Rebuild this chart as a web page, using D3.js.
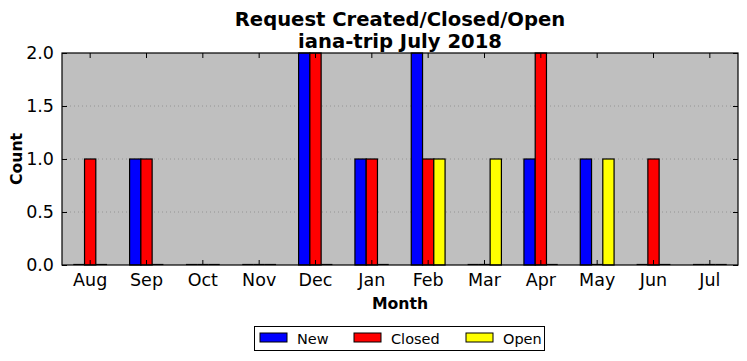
<!DOCTYPE html>
<html><head><meta charset="utf-8">
<script src="https://cdn.jsdelivr.net/npm/d3@7"></script>
<style>body{margin:0;background:#fff}svg{display:block;font-family:"DejaVu Sans",sans-serif}</style>
</head><body><svg id="c" width="747" height="361"></svg>
<script>
const months = ["Aug","Sep","Oct","Nov","Dec","Jan","Feb","Mar","Apr","May","Jun","Jul"];
const newVals = [0,1,0,0,2,1,2,0,1,1,0,0];
const closedVals = [1,1,0,0,2,1,1,0,2,0,1,0];
const openVals = [0,0,0,0,0,0,1,1,0,1,0,0];
const yTicks = [0,0.5,1.0,1.5,2.0];
const seriesNames = ["New","Closed","Open"];
const seriesColors = ["#0000ff","#ff0000","#ffff00"];
const seriesData = [newVals, closedVals, openVals];

const svg = d3.select("#c");
const L=62,R=738,T=53,B=265;
const x = d3.scaleBand().domain(months).range([L,R]);
const y = d3.scaleLinear().domain([0,2]).range([B,T]);
const step = x.step(), bw = step*0.2;

svg.append("rect").attr("x",L).attr("y",T).attr("width",R-L).attr("height",B-T).attr("fill","#bfbfbf");
// grid
svg.append("g").selectAll("line").data(yTicks.slice(1,-1)).join("line")
  .attr("x1",L).attr("x2",R).attr("y1",d=>y(d)).attr("y2",d=>y(d))
  .attr("stroke","#8c8c8c").attr("stroke-width",0.8).attr("stroke-dasharray","1,3");

// bars
seriesData.forEach((vals,si)=>{
  const bx = (d,i)=>x(months[i])+step/2+(si-1.5)*bw;
  const g = svg.append("g");
  g.selectAll("rect").data(vals).join("rect")
    .attr("x",bx)
    .attr("y",d=>y(d)).attr("width",bw).attr("height",d=>B-y(d))
    .attr("fill",seriesColors[si]).attr("stroke","#000").attr("stroke-width",1.2);
  g.selectAll("line").data(vals.map((v,i)=>({v,i})).filter(o=>o.v===0)).join("line")
    .attr("x1",o=>bx(o.v,o.i)).attr("x2",o=>bx(o.v,o.i)+bw)
    .attr("y1",y(0)-0.5).attr("y2",y(0)-0.5).attr("stroke","#000").attr("stroke-width",1.2);
});

// frame
svg.append("rect").attr("x",L).attr("y",T).attr("width",R-L).attr("height",B-T).attr("fill","none").attr("stroke","#000").attr("stroke-width",1.2);

// axes
const xa = svg.append("g").attr("transform",`translate(0,${B})`).call(d3.axisBottom(x).tickSizeInner(-5).tickSizeOuter(0).tickPadding(9));
const xt = svg.append("g").attr("transform",`translate(0,${T})`).call(d3.axisTop(x).tickSizeInner(-5).tickSizeOuter(0).tickFormat(""));
const ya = svg.append("g").attr("transform",`translate(${L},0)`).call(d3.axisLeft(y).tickValues(yTicks).tickFormat(d3.format(".1f")).tickSizeInner(-5).tickSizeOuter(0).tickPadding(8));
const yr = svg.append("g").attr("transform",`translate(${R},0)`).call(d3.axisRight(y).tickValues(yTicks).tickSizeInner(-5).tickSizeOuter(0).tickFormat(""));
[xa,xt,ya,yr].forEach(g=>{g.select(".domain").remove();g.selectAll("line").attr("stroke","#000");g.selectAll("text").attr("fill","#000").style("font-size","17.5px").style("font-family","DejaVu Sans");});

// titles
svg.append("text").attr("x",400).attr("y",26).attr("text-anchor","middle").style("font-size","19.6px").style("font-weight","bold").text("Request Created/Closed/Open");
svg.append("text").attr("x",400).attr("y",48).attr("text-anchor","middle").style("font-size","19.6px").style("font-weight","bold").text("iana-trip July 2018");
svg.append("text").attr("x",400).attr("y",309).attr("text-anchor","middle").style("font-size","15.7px").style("font-weight","bold").text("Month");
svg.append("text").attr("transform","translate(22,159) rotate(-90)").attr("text-anchor","middle").style("font-size","15.7px").style("font-weight","bold").text("Count");

// legend
const lg = svg.append("g");
lg.append("rect").attr("x",254.5).attr("y",326.5).attr("width",290).attr("height",24).attr("fill","#fff").attr("stroke","#000");
const lx = [260,354,466];
seriesNames.forEach((n,i)=>{
  lg.append("rect").attr("x",lx[i]).attr("y",333).attr("width",27).attr("height",9).attr("fill",seriesColors[i]).attr("stroke","#000");
  lg.append("text").attr("x",lx[i]+37).attr("y",343.5).style("font-size","14.5px").text(n);
});
</script></body></html>
